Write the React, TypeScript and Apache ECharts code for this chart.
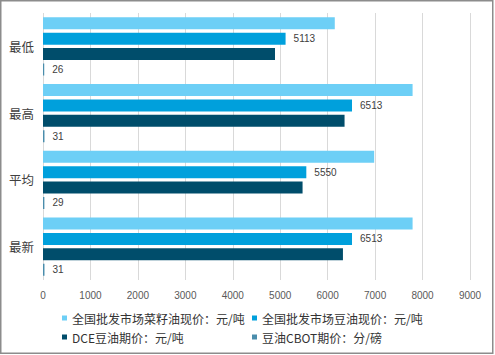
import React, { useEffect, useRef } from "react";
import * as echarts from "echarts";

const categories = ["最低", "最高", "平均", "最新"];
const seriesNames = [
  "全国批发市场菜籽油现价：元/吨",
  "全国批发市场豆油现价：元/吨",
  "DCE豆油期价：元/吨",
  "豆油CBOT期价：分/磅",
];
const rapeseedSpot = [6150, 7790, 6980, 7790];
const soySpot = [5113, 6513, 5550, 6513];
const dceFutures = [4890, 6356, 5471, 6322];
const cbotFutures = [26, 31, 29, 31];
const xTicks = [0, 9000, 1000];
const colors = ["#6DCFF6", "#00A0DC", "#004D6B", "#4A8DAC"];

export default function App() {
  const ref = useRef<HTMLDivElement>(null);
  useEffect(() => {
    const chart = echarts.init(ref.current!, null, { renderer: "svg" });
    const values = [rapeseedSpot, soySpot, dceFutures, cbotFutures];
    const labelShown = [false, true, false, true];
    const legendPos = [
      { left: 62, top: 312 },
      { left: 252, top: 312 },
      { left: 62, top: 331 },
      { left: 252, top: 331 },
    ];
    chart.setOption({
      animation: false,
      backgroundColor: "#fff",
      grid: { left: 43, right: 25, top: 13, bottom: 75, containLabel: false },
      xAxis: {
        type: "value",
        min: xTicks[0],
        max: xTicks[1],
        interval: xTicks[2],
        axisLine: { show: false },
        axisTick: { show: false },
        splitLine: { lineStyle: { color: "#D9D9D9", width: 1 } },
        axisLabel: {
          fontSize: 10,
          color: "#595959",
          margin: 10,
          fontFamily: "Liberation Sans",
          formatter: (v: number) => String(v),
        },
      },
      yAxis: {
        type: "category",
        data: categories,
        inverse: true,
        axisLine: { show: false },
        axisTick: { show: false },
        axisLabel: { fontSize: 12.5, color: "#404040", margin: 9, fontFamily: "Noto Sans CJK SC" },
      },
      legend: seriesNames.map((n, i) => ({
        data: [n],
        left: legendPos[i].left,
        top: legendPos[i].top,
        itemWidth: 5,
        itemHeight: 5,
        padding: 0,
        icon: "rect",
        textStyle: { fontSize: 12, color: "#333", fontFamily: "Noto Sans CJK SC" },
      })),
      series: seriesNames.map((n, i) => ({
        type: "bar",
        name: n,
        data: values[i],
        barWidth: 12,
        barGap: "28%",
        itemStyle: { color: colors[i] },
        label: {
          show: labelShown[i],
          position: "right",
          distance: 8,
          fontSize: 10,
          color: "#404040",
          fontFamily: "Liberation Sans",
        },
      })),
      graphic: [
        {
          type: "rect",
          shape: { x: 0.75, y: 0.75, width: 492, height: 352.5 },
          style: { fill: "none", stroke: "#8C8C8C", lineWidth: 1.5 },
          silent: true,
        },
      ],
    });
    return () => chart.dispose();
  }, []);
  return (
    <div
      ref={ref}
      style={{ position: "fixed", left: 0, top: 0, width: 495, height: 355 }}
    />
  );
}
